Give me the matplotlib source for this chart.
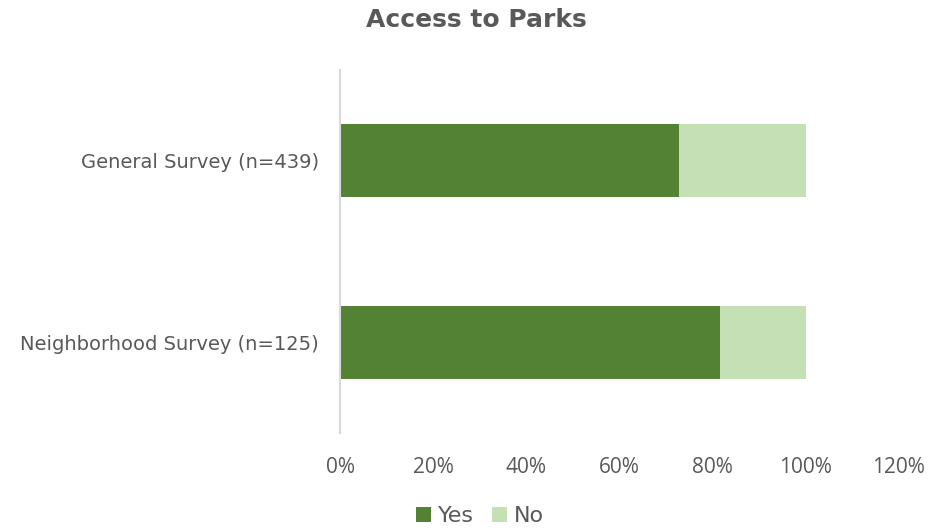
import numpy as np
import matplotlib.pyplot as plt

categories = ['Neighborhood Survey (n=125)', 'General Survey (n=439)']
yes = [0.816, 0.728]
no = [0.184, 0.272]
xticks = [0, 0.2, 0.4, 0.6, 0.8, 1.0, 1.2]

dark = '#548235'
light = '#C5E0B4'
grey = '#595959'

plt.rcParams['font.family'] = ['DejaVu Sans']

fig = plt.figure(figsize=(9.37, 5.31), dpi=100)
ax = fig.add_axes([0.3629, 0.1846, 0.5965, 0.6836])

y = np.arange(len(categories))
ax.barh(y, yes, height=0.4, color=dark, label='Yes')
ax.barh(y, no, left=yes, height=0.4, color=light, label='No')

ax.set_xlim(0, 1.2)
ax.set_ylim(-0.5, 1.5)
ax.set_xticks(xticks)
ax.set_xticklabels([f'{int(round(t*100))}%' for t in xticks],
                   family='Open Sans', fontsize=15)
ax.set_yticks(y)
ax.set_yticklabels(categories, fontsize=14)
ax.tick_params(axis='both', length=0, colors=grey)
ax.tick_params(axis='x', pad=17)
ax.tick_params(axis='y', pad=15)

for s in ['top', 'right', 'bottom']:
    ax.spines[s].set_visible(False)
ax.spines['left'].set_color('#D9D9D9')
ax.spines['left'].set_linewidth(1.5)

fig.text(0.508, 0.962, 'Access to Parks', ha='center', va='center',
         fontsize=18, fontweight='bold', color=grey)

fig.legend(loc='center', bbox_to_anchor=(0.512, 0.028), ncol=2, frameon=False,
           fontsize=16, handlelength=0.7, handleheight=0.7, handletextpad=0.3,
           columnspacing=0.8, labelcolor=grey)

plt.savefig('out.png', dpi=100)
